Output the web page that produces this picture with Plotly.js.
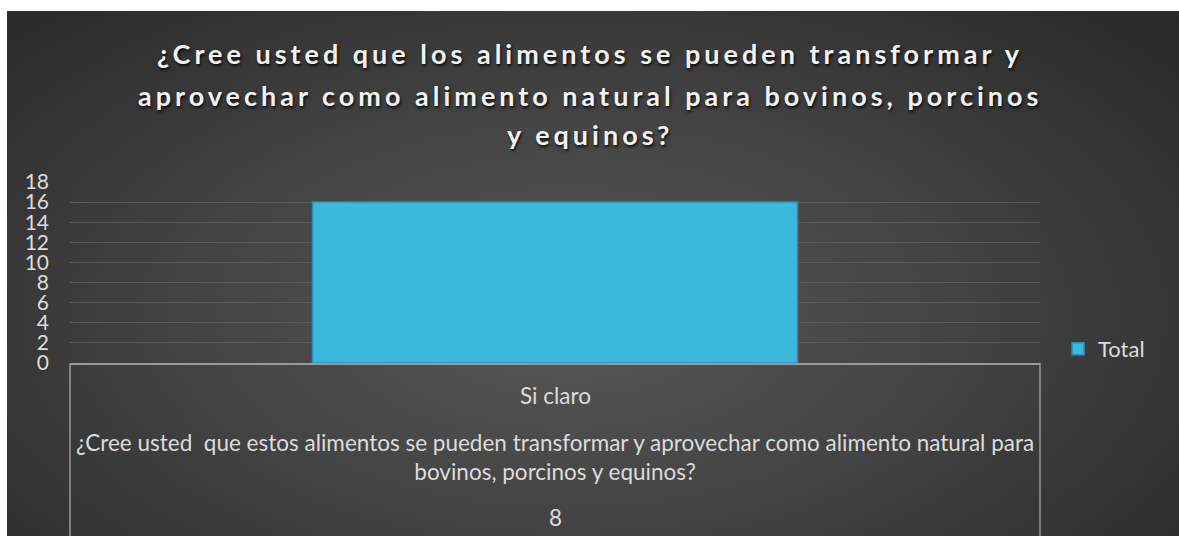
<!DOCTYPE html>
<html>
<head>
<meta charset="utf-8">
<script src="https://cdn.plot.ly/plotly-3.0.1.min.js"></script>
<style>
  html, body { margin: 0; padding: 0; background: #ffffff; width: 1179px; height: 536px; overflow: hidden; }
  #bg { position: absolute; left: 7px; top: 11px; width: 1172px; height: 525px;
        background: radial-gradient(ellipse 75% 90% at 48% 58%, #575757 0%, #454545 40%, #2f2f2f 80%, #272727 100%); }
  #chart { position: absolute; left: 0; top: 0; width: 1179px; height: 536px; }
  .annotation[data-index="0"] text, .annotation[data-index="1"] text, .annotation[data-index="2"] text { letter-spacing: 4px; }
</style>
</head>
<body>
<div id="bg"></div>
<div id="chart"></div>
<script>
// ---- data ----
const categories = ["Si claro"];
const groupLabels = ["¿Cree usted  que estos alimentos se pueden transformar y aprovechar como alimento natural para bovinos, porcinos y equinos?"];
const outerLabels = ["8"];
const seriesName = "Total";
const values = [16];
const yTickValues = [0, 2, 4, 6, 8, 10, 12, 14, 16, 18];
const titleLines = [
  "¿Cree usted que los alimentos se pueden transformar y",
  "aprovechar como alimento natural para bovinos, porcinos",
  "y equinos?"
];

// ---- styling ----
const txtColor = "#dcdcdc";
const fontFam = "Lato, 'Open Sans', sans-serif";
const plotTop = 182, plotBottom = 363, plotH = plotBottom - plotTop;
const toPaperY = py => (plotBottom - py) / plotH;

const trace = {
  type: "bar",
  x: categories,
  y: values,
  name: seriesName,
  width: 0.5,
  marker: { color: "#3cb8dc", line: { color: "#2b8fb0", width: 1.5 } },
  showlegend: true,
  hoverinfo: "x+y"
};

const annotations = [];
const titleYs = [53, 95, 134];
titleLines.forEach((t, i) => {
  annotations.push({
    text: "<b>" + t + "</b>", x: 0.5, xref: "paper", xanchor: "center", xshift: 35,
    y: toPaperY(titleYs[i]), yref: "paper", yanchor: "middle", showarrow: false,
    font: { family: fontFam, size: 27, color: "#f2f2f2", shadow: "1px 2px 3px rgba(0,0,0,0.85)" }
  });
});
categories.forEach((c, i) => {
  const f = { family: fontFam, size: 22.5, color: txtColor };
  annotations.push({ x: c, xref: "x", y: toPaperY(395), yref: "paper", text: c, showarrow: false, font: f, yanchor: "middle" });
  annotations.push({ x: c, xref: "x", y: toPaperY(457), yref: "paper", text: groupLabels[i].replace(" bovinos", "<br>bovinos"),
    showarrow: false, font: f, yanchor: "middle", align: "center" });
  annotations.push({ x: c, xref: "x", y: toPaperY(517), yref: "paper", text: outerLabels[i], showarrow: false, font: f, yanchor: "middle" });
});

const bottomPaper = toPaperY(536);
const shapes = [
  { type: "line", xref: "paper", yref: "paper", x0: 0, x1: 0, y0: 0, y1: bottomPaper, line: { color: "#9a9a9a", width: 1.5 } },
  { type: "line", xref: "paper", yref: "paper", x0: 1, x1: 1, y0: 0, y1: bottomPaper, line: { color: "#9a9a9a", width: 1.5 } }
];

const layout = {
  width: 1179, height: 536,
  paper_bgcolor: "rgba(0,0,0,0)",
  plot_bgcolor: "rgba(0,0,0,0)",
  margin: { l: 70, r: 139, t: plotTop, b: 536 - plotBottom, pad: 0 },
  xaxis: {
    type: "category", range: [-0.5, 0.5], showticklabels: false, showgrid: false,
    showline: true, linecolor: "#9a9a9a", linewidth: 1.5, zeroline: false, ticks: ""
  },
  yaxis: {
    range: [0, 18], tickvals: yTickValues, ticktext: yTickValues.map(String),
    showgrid: true, gridcolor: "#5a5a5a", gridwidth: 1, zeroline: false, showline: false,
    ticks: "", ticklabelstandoff: 20,
    tickfont: { family: fontFam, size: 21, color: txtColor }
  },
  legend: {
    x: 1.0186, xanchor: "left", y: toPaperY(349), yanchor: "middle",
    font: { family: fontFam, size: 22, color: txtColor }, bgcolor: "rgba(0,0,0,0)",
    itemwidth: 30
  },
  showlegend: true,
  annotations: annotations,
  shapes: shapes
};

Plotly.newPlot("chart", [trace], layout, { displayModeBar: false });
</script>
</body>
</html>
